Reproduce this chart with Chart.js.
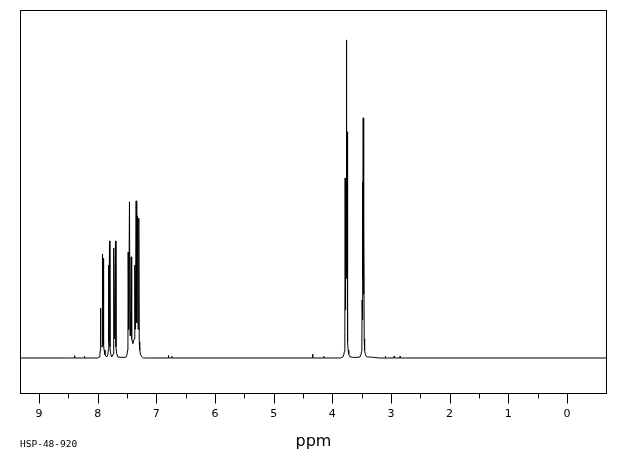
<!DOCTYPE html>
<html>
<head>
<meta charset="utf-8">
<script src="https://cdn.jsdelivr.net/npm/chart.js@4.4.0/dist/chart.umd.min.js"></script>
<style>
body {margin: 0; background: #fff;}
#spec {display: block;}
</style>
</head>
<body>
<canvas id="spec" width="620" height="455"></canvas>
<script>
// x range of the plot box (ppm, reversed)
const ppmLeft = 9.324
const ppmRight = -0.683

const majorTicks = [9, 8, 7, 6, 5, 4, 3, 2, 1, 0]
const minorTicks = [8.5, 7.5, 6.5, 5.5, 4.5, 3.5, 2.5, 1.5, 0.5]

// flat baseline with a few tiny noise blips
const ppmBaseline = [9.324, 8.55, 8.40, 8.395, 8.39, 8.23, 8.225, 8.22, 8.10, 7.15,
    6.80, 6.795, 6.79, 6.74, 6.735, 6.73, 4.34, 4.335, 4.33, 4.15, 4.145, 4.14, 3.95,
    3.10, 3.095, 3.09, 2.95, 2.945, 2.94, 2.85, 2.845, 2.84, 2.75, -0.683]
const intBaseline = [0, 0, 0, 0.7, 0, 0, 0.5, 0, 0, 0,
    0, 0.8, 0, 0, 0.5, 0, 0, 1.2, 0, 0, 0.5, 0, 0,
    0, 0.5, 0, 0, 0.6, 0, 0, 0.5, 0, 0, 0]

// aromatic multiplets 7.3 - 8.0 ppm
const ppmAromatic = [8.00, 7.975, 7.962, 7.955, 7.951, 7.946, 7.926, 7.922, 7.914, 7.905, 7.899,
    7.89, 7.875, 7.845, 7.826, 7.819, 7.815, 7.807, 7.798, 7.791, 7.78, 7.76, 7.738, 7.729, 7.724,
    7.712, 7.696, 7.688, 7.677, 7.655, 7.60, 7.52, 7.50, 7.489, 7.484, 7.480, 7.471, 7.458, 7.448,
    7.440, 7.429, 7.420, 7.40, 7.378, 7.367, 7.358, 7.344, 7.334, 7.322, 7.312, 7.299, 7.291,
    7.283, 7.27, 7.25, 7.22]
const intAromatic = [0, 0.3, 1.2, 2.5, 15.7, 4, 3.5, 32.7, 6, 31.4, 4,
    2.5, 1, 0.3, 1.2, 2.5, 29.2, 5, 36.8, 3.5, 1.5, 0.3, 1.2, 2.5, 34.6,
    6, 36.8, 3.5, 1.5, 0.3, 0.2, 0.2, 1, 2.5, 5, 33.3, 9, 49.1, 7,
    8, 31.8, 6, 4.5, 6, 29.2, 9, 49.4, 11, 44.7, 9, 44.0, 5,
    2.5, 1.2, 0.4, 0]

// aliphatic singlets near 3.76 and 3.47 ppm
const ppmAliphatic = [3.86, 3.82, 3.805, 3.795, 3.788, 3.784, 3.781, 3.776, 3.771, 3.766, 3.761,
    3.757, 3.752, 3.747, 3.742, 3.737, 3.73, 3.72, 3.70, 3.65, 3.58, 3.53, 3.512, 3.502, 3.496,
    3.492, 3.487, 3.482, 3.478, 3.473, 3.468, 3.462, 3.456, 3.449, 3.44, 3.425, 3.40, 3.35,
    3.30, 3.20]
const intAliphatic = [0, 0.3, 1, 2, 3.5, 8, 56.6, 15, 45, 25, 80,
    100, 45, 71.1, 20, 5, 2.5, 1.2, 0.4, 0.2, 0.2, 0.3, 1, 2, 5,
    18.2, 12, 55.3, 25, 75.5, 20, 44.0, 6, 2.5, 1.5, 0.6, 0.3, 0.3,
    0.2, 0]

function pairs(xs, ys) {
    return xs.map(function (x, i) { return {x: x, y: ys[i]} })
}
const spectrum = pairs(ppmBaseline, intBaseline)
    .concat(pairs(ppmAromatic, intAromatic))
    .concat(pairs(ppmAliphatic, intAliphatic))
    .sort(function (a, b) { return b.x - a.x })

// frame, tick marks and sample id
const framePlugin = {
    id: 'frame',
    afterDraw: function (chart) {
        const ctx = chart.ctx
        const a = chart.chartArea
        const xs = chart.scales.x
        const l = Math.floor(a.left) + 0.5, r = Math.floor(a.right) - 0.5
        const t = Math.floor(a.top) + 0.5, b = Math.floor(a.bottom) + 0.5
        ctx.save()
        ctx.strokeStyle = '#000'
        ctx.lineWidth = 1
        ctx.strokeRect(l, t, r - l, b - t)
        ctx.beginPath()
        majorTicks.forEach(function (v) {
            const px = Math.round(xs.getPixelForValue(v)) + 0.5
            ctx.moveTo(px, b); ctx.lineTo(px, b + 10)
        })
        minorTicks.forEach(function (v) {
            const px = Math.round(xs.getPixelForValue(v)) + 0.5
            ctx.moveTo(px, b); ctx.lineTo(px, b + 5)
        })
        ctx.stroke()
        ctx.fillStyle = '#000'
        ctx.font = '9.5px "DejaVu Sans Mono"'
        ctx.textBaseline = 'alphabetic'
        ctx.fillText('HSP-48-920', 20, 447)
        ctx.restore()
    }
}

const myChart = new Chart(document.getElementById('spec').getContext('2d'), {
    type: 'line',
    data: {datasets: [{
        data: spectrum,
        borderColor: '#000',
        borderWidth: 1,
        pointRadius: 0,
        tension: 0,
        fill: false
    }]},
    options: {
        responsive: false,
        animation: false,
        layout: {padding: {left: 20, right: 13, top: 10, bottom: 3.4}},
        plugins: {legend: {display: false}, tooltip: {enabled: false}},
        scales: {
            x: {
                type: 'linear',
                reverse: true,
                min: ppmRight,
                max: ppmLeft,
                afterBuildTicks: function (scale) {
                    scale.ticks = majorTicks.map(function (v) { return {value: v} })
                },
                afterFit: function (scale) {
                    scale.height = 58.3
                },
                grid: {display: false},
                border: {display: false},
                ticks: {
                    autoSkip: false,
                    maxRotation: 0,
                    padding: 6,
                    color: '#000',
                    font: {family: 'DejaVu Sans', size: 11},
                    callback: function (v) { return String(v) }
                },
                title: {
                    display: true,
                    text: 'ppm',
                    color: '#000',
                    font: {family: 'DejaVu Sans', size: 16},
                    padding: {top: 11, bottom: 0}
                }
            },
            y: {
                display: false,
                min: -11.1,
                max: 109.4
            }
        }
    },
    plugins: [framePlugin]
})
</script>
</body>
</html>
